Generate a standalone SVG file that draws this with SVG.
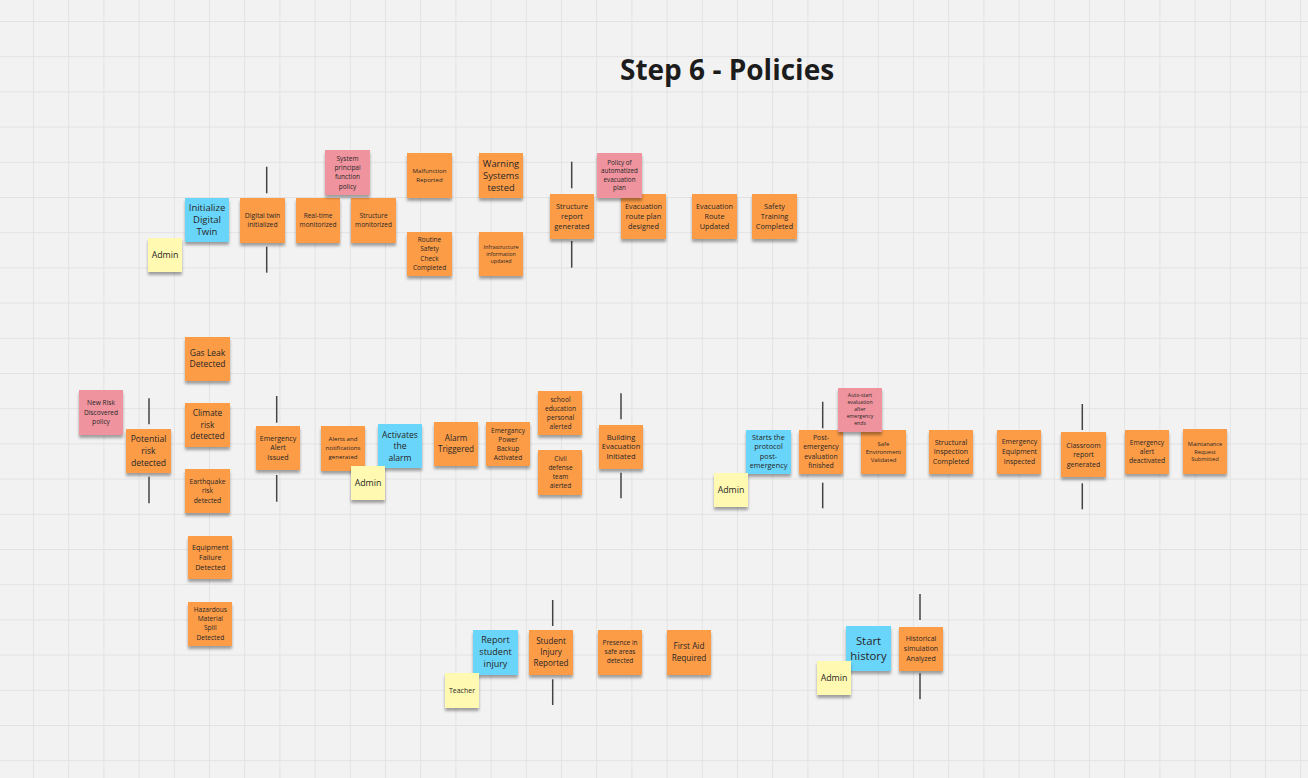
<svg xmlns="http://www.w3.org/2000/svg" width="1308" height="778" viewBox="0 0 1308 778">
<defs>
<pattern id="grid" x="173.8" y="56.2" width="35.2" height="35.2" patternUnits="userSpaceOnUse">
<rect x="0" y="0" width="1" height="35.2" fill="#e2e2e2"/>
<rect x="0" y="0" width="35.2" height="1" fill="#e2e2e2"/>
</pattern>
<filter id="sh" x="-20%" y="-20%" width="140%" height="160%">
<feGaussianBlur in="SourceAlpha" stdDeviation="1.8"/>
<feOffset dx="0" dy="3" result="b"/>
<feComponentTransfer><feFuncA type="linear" slope="0.35"/></feComponentTransfer>
<feMerge><feMergeNode/><feMergeNode in="SourceGraphic"/></feMerge>
</filter>
</defs>
<style>
.o{fill:#fd9c47;filter:url(#sh)}
.b{fill:#6bd5fa;filter:url(#sh)}
.y{fill:#fff9b1;filter:url(#sh)}
.p{fill:#ef949e;filter:url(#sh)}
.t{font-family:"Open Sans","Noto Sans",sans-serif;fill:#262626;text-anchor:middle}
.c{stroke:#444;stroke-width:1.5;fill:none}
.title{font-family:"Open Sans","Noto Sans",sans-serif;font-weight:700;font-size:28px;fill:#1c1c1c}
</style>
<rect width="1308" height="778" fill="#f2f2f2"/>
<rect width="1308" height="778" fill="url(#grid)"/>
<text class="title" x="620" y="80">Step 6 - Policies</text>

<g id="connectors">
<line class="c" x1="266.7" y1="166.7" x2="266.7" y2="193.3"/><line class="c" x1="266.7" y1="246.7" x2="266.7" y2="272.7"/>
<line class="c" x1="571.7" y1="161.7" x2="571.7" y2="188.3"/><line class="c" x1="571.7" y1="241" x2="571.7" y2="267.7"/>
<line class="c" x1="149" y1="398.3" x2="149" y2="424.3"/><line class="c" x1="149" y1="476.7" x2="149" y2="503.3"/>
<line class="c" x1="276.7" y1="396" x2="276.7" y2="422.7"/><line class="c" x1="276.7" y1="475" x2="276.7" y2="501.7"/>
<line class="c" x1="621" y1="393.3" x2="621" y2="419.3"/><line class="c" x1="621" y1="472.7" x2="621" y2="498.3"/>
<line class="c" x1="822.7" y1="401.7" x2="822.7" y2="428.3"/><line class="c" x1="822.7" y1="482.7" x2="822.7" y2="508.3"/>
<line class="c" x1="1082.3" y1="404" x2="1082.3" y2="430"/><line class="c" x1="1082.3" y1="483.3" x2="1082.3" y2="509.3"/>
<line class="c" x1="552.7" y1="600" x2="552.7" y2="626"/><line class="c" x1="552.7" y1="679.3" x2="552.7" y2="705"/>
<line class="c" x1="920" y1="594" x2="920" y2="620"/><line class="c" x1="920" y1="673.3" x2="920" y2="699.3"/>
</g>

<g id="admin1"><rect class="y" x="148" y="238" width="34" height="34"/><text class="t" font-size="8.8"><tspan x="165" y="258.1">Admin</tspan></text></g>
<g id="init-digital-twin"><rect class="b" x="185" y="198" width="44" height="44"/><text class="t" font-size="9.5"><tspan x="207" y="211.3">Initialize</tspan><tspan x="207" y="223.3">Digital</tspan><tspan x="207" y="235.3">Twin</tspan></text></g>
<g id="digital-twin-initialized"><rect class="o" x="240" y="198" width="45" height="45"/><text class="t" font-size="6.8"><tspan x="262.5" y="218.4">Digital twin</tspan><tspan x="262.5" y="227.4">initialized</tspan></text></g>
<g id="realtime-monitorized"><rect class="o" x="296" y="198" width="44" height="45"/><text class="t" font-size="6.5"><tspan x="318" y="218.3">Real-time</tspan><tspan x="318" y="227.3">monitorized</tspan></text></g>
<g id="structure-monitorized"><rect class="o" x="351" y="198" width="45" height="45"/><text class="t" font-size="6.5"><tspan x="373.5" y="218.3">Structure</tspan><tspan x="373.5" y="227.3">monitorized</tspan></text></g>
<g id="policy-system"><rect class="p" x="325" y="150" width="45" height="45"/><text class="t" font-size="6.5"><tspan x="347.5" y="160.8">System</tspan><tspan x="347.5" y="170.1">principal</tspan><tspan x="347.5" y="179.4">function</tspan><tspan x="347.5" y="188.7">policy</tspan></text></g>
<g id="malfunction-reported"><rect class="o" x="407" y="153" width="45" height="45"/><text class="t" font-size="6.1"><tspan x="429.5" y="173.4">Malfunction</tspan><tspan x="429.5" y="181.7">Reported</tspan></text></g>
<g id="routine-check"><rect class="o" x="407" y="232" width="45" height="44"/><text class="t" font-size="6.5"><tspan x="429.5" y="242">Routine</tspan><tspan x="429.5" y="251.3">Safety</tspan><tspan x="429.5" y="260.6">Check</tspan><tspan x="429.5" y="269.9">Completed</tspan></text></g>
<g id="warning-tested"><rect class="o" x="479" y="153" width="44" height="45"/><text class="t" font-size="9.3"><tspan x="501" y="166.7">Warning</tspan><tspan x="501" y="178.8">Systems</tspan><tspan x="501" y="190.9">tested</tspan></text></g>
<g id="infra-updated"><rect class="o" x="479" y="232" width="44" height="44"/><text class="t" font-size="5.4"><tspan x="501" y="249.2">Infrastructure</tspan><tspan x="501" y="255.9">information</tspan><tspan x="501" y="262.6">updated</tspan></text></g>
<g id="structure-report"><rect class="o" x="550" y="194" width="44" height="45"/><text class="t" font-size="7.4"><tspan x="572" y="208.5">Structure</tspan><tspan x="572" y="218.7">report</tspan><tspan x="572" y="228.9">generated</tspan></text></g>
<g id="evac-plan-designed"><rect class="o" x="621" y="194" width="45" height="45"/><text class="t" font-size="7.3"><tspan x="643.5" y="208.5">Evacuation</tspan><tspan x="643.5" y="218.7">route plan</tspan><tspan x="643.5" y="228.9">designed</tspan></text></g>
<g id="policy-evac"><rect class="p" x="597" y="153" width="45" height="45"/><text class="t" font-size="6.3"><tspan x="619.5" y="164.9">Policy of</tspan><tspan x="619.5" y="173.4">automatized</tspan><tspan x="619.5" y="181.9">evacuation</tspan><tspan x="619.5" y="190.4">plan</tspan></text></g>
<g id="evac-route-updated"><rect class="o" x="692" y="194" width="45" height="45"/><text class="t" font-size="7.3"><tspan x="714.5" y="208.5">Evacuation</tspan><tspan x="714.5" y="218.7">Route</tspan><tspan x="714.5" y="228.9">Updated</tspan></text></g>
<g id="safety-training"><rect class="o" x="752" y="194" width="45" height="45"/><text class="t" font-size="7.3"><tspan x="774.5" y="208.5">Safety</tspan><tspan x="774.5" y="218.7">Training</tspan><tspan x="774.5" y="228.9">Completed</tspan></text></g>

<g id="policy-new-risk"><rect class="p" x="79" y="390" width="44" height="45"/><text class="t" font-size="6.6"><tspan x="101" y="405.2">New Risk</tspan><tspan x="101" y="414.5">Discovered</tspan><tspan x="101" y="423.8">policy</tspan></text></g>
<g id="potential-risk"><rect class="o" x="126" y="429" width="45" height="44"/><text class="t" font-size="8.6"><tspan x="148.5" y="442.1">Potential</tspan><tspan x="148.5" y="453.8">risk</tspan><tspan x="148.5" y="465.5">detected</tspan></text></g>
<g id="gas-leak"><rect class="o" x="185" y="337" width="45" height="44"/><text class="t" font-size="8.5"><tspan x="207.5" y="356">Gas Leak</tspan><tspan x="207.5" y="367.3">Detected</tspan></text></g>
<g id="climate-risk"><rect class="o" x="185" y="403" width="45" height="44"/><text class="t" font-size="8.4"><tspan x="207.5" y="416">Climate</tspan><tspan x="207.5" y="427.5">risk</tspan><tspan x="207.5" y="439">detected</tspan></text></g>
<g id="earthquake-risk"><rect class="o" x="185" y="469" width="45" height="44"/><text class="t" font-size="6.7"><tspan x="207.5" y="484">Earthquake</tspan><tspan x="207.5" y="493.3">risk</tspan><tspan x="207.5" y="502.6">detected</tspan></text></g>
<g id="equipment-failure"><rect class="o" x="188" y="536" width="44" height="43"/><text class="t" font-size="7.2"><tspan x="210.3" y="550.3">Equipment</tspan><tspan x="210.3" y="560">Failure</tspan><tspan x="210.3" y="569.7">Detected</tspan></text></g>
<g id="hazardous-spill"><rect class="o" x="188" y="602" width="44" height="44"/><text class="t" font-size="6.6"><tspan x="210.3" y="611.8">Hazardous</tspan><tspan x="210.3" y="621.1">Material</tspan><tspan x="210.3" y="630.4">Spill</tspan><tspan x="210.3" y="639.7">Detected</tspan></text></g>
<g id="emergency-alert-issued"><rect class="o" x="256" y="426" width="44" height="44"/><text class="t" font-size="7.1"><tspan x="278" y="440.8">Emergency</tspan><tspan x="278" y="450.4">Alert</tspan><tspan x="278" y="460">Issued</tspan></text></g>
<g id="alerts-generated"><rect class="o" x="321" y="426" width="44" height="45"/><text class="t" font-size="6.1"><tspan x="343" y="441.3">Alerts and</tspan><tspan x="343" y="449.9">notifications</tspan><tspan x="343" y="458.5">generated</tspan></text></g>
<g id="activates-alarm"><rect class="b" x="378" y="424" width="44" height="44"/><text class="t" font-size="8.6"><tspan x="400" y="437.5">Activates</tspan><tspan x="400" y="449">the</tspan><tspan x="400" y="460.5">alarm</tspan></text></g>
<g id="admin2"><rect class="y" x="351" y="466" width="34" height="34"/><text class="t" font-size="8.8"><tspan x="368" y="486.1">Admin</tspan></text></g>
<g id="alarm-triggered"><rect class="o" x="434" y="422" width="44" height="44"/><text class="t" font-size="8.1"><tspan x="456" y="441.2">Alarm</tspan><tspan x="456" y="451.9">Triggered</tspan></text></g>
<g id="power-backup"><rect class="o" x="486" y="422" width="44" height="44"/><text class="t" font-size="6.6"><tspan x="508" y="432.5">Emergancy</tspan><tspan x="508" y="441.7">Power</tspan><tspan x="508" y="450.9">Backup</tspan><tspan x="508" y="460.1">Activated</tspan></text></g>
<g id="school-alerted"><rect class="o" x="538" y="391" width="44" height="44"/><text class="t" font-size="6.7"><tspan x="560.5" y="401.5">school</tspan><tspan x="560.5" y="410.7">education</tspan><tspan x="560.5" y="419.9">personal</tspan><tspan x="560.5" y="429.1">alerted</tspan></text></g>
<g id="civil-defense-alerted"><rect class="o" x="538" y="450" width="44" height="45"/><text class="t" font-size="6.5"><tspan x="560.5" y="460.7">Civil</tspan><tspan x="560.5" y="469.9">defense</tspan><tspan x="560.5" y="479.1">team</tspan><tspan x="560.5" y="488.3">alerted</tspan></text></g>
<g id="building-evacuation"><rect class="o" x="599" y="425" width="44" height="44"/><text class="t" font-size="7.6"><tspan x="621" y="440">Building</tspan><tspan x="621" y="449.4">Evacuation</tspan><tspan x="621" y="458.8">Initiated</tspan></text></g>

<g id="starts-protocol"><rect class="b" x="746" y="430" width="45" height="44"/><text class="t" font-size="7.3"><tspan x="768.5" y="440">Starts the</tspan><tspan x="768.5" y="449.3">protocol</tspan><tspan x="768.5" y="458.6">post-</tspan><tspan x="768.5" y="467.9">emergency</tspan></text></g>
<g id="admin3"><rect class="y" x="714" y="473" width="34" height="34"/><text class="t" font-size="8.8"><tspan x="731" y="493.1">Admin</tspan></text></g>
<g id="post-evaluation"><rect class="o" x="799" y="430" width="44" height="44"/><text class="t" font-size="6.9"><tspan x="821" y="440">Post-</tspan><tspan x="821" y="449.3">emergency</tspan><tspan x="821" y="458.6">evaluation</tspan><tspan x="821" y="467.9">finished</tspan></text></g>
<g id="safe-environment"><rect class="o" x="861" y="430" width="45" height="44"/><text class="t" font-size="5.9"><tspan x="883.5" y="445.5">Safe</tspan><tspan x="883.5" y="453.5">Environment</tspan><tspan x="883.5" y="461.5">Validated</tspan></text></g>
<g id="policy-auto-eval"><rect class="p" x="838" y="388" width="44" height="44"/><text class="t" font-size="5.2"><tspan x="860" y="397.2">Auto-start</tspan><tspan x="860" y="404.2">evaluation</tspan><tspan x="860" y="411.2">after</tspan><tspan x="860" y="418.2">emergency</tspan><tspan x="860" y="425.2">ends</tspan></text></g>
<g id="structural-inspection"><rect class="o" x="929" y="430" width="44" height="44"/><text class="t" font-size="7.1"><tspan x="951" y="444.8">Structural</tspan><tspan x="951" y="454.2">Inspection</tspan><tspan x="951" y="463.6">Completed</tspan></text></g>
<g id="equipment-inspected"><rect class="o" x="997" y="430" width="44" height="44"/><text class="t" font-size="6.9"><tspan x="1019.5" y="444.3">Emergency</tspan><tspan x="1019.5" y="453.9">Equipment</tspan><tspan x="1019.5" y="463.5">Inspected</tspan></text></g>
<g id="classroom-report"><rect class="o" x="1061" y="432" width="45" height="45"/><text class="t" font-size="7"><tspan x="1083.5" y="447.5">Classroom</tspan><tspan x="1083.5" y="457">report</tspan><tspan x="1083.5" y="466.5">generated</tspan></text></g>
<g id="alert-deactivated"><rect class="o" x="1125" y="430" width="44" height="44"/><text class="t" font-size="6.7"><tspan x="1147" y="444.6">Emergency</tspan><tspan x="1147" y="453.6">alert</tspan><tspan x="1147" y="462.6">deactivated</tspan></text></g>
<g id="maintenance-request"><rect class="o" x="1183" y="429" width="44" height="45"/><text class="t" font-size="5.7"><tspan x="1205" y="446">Maintanance</tspan><tspan x="1205" y="453.6">Request</tspan><tspan x="1205" y="461.2">Submitted</tspan></text></g>

<g id="report-injury"><rect class="b" x="473" y="630" width="45" height="45"/><text class="t" font-size="9"><tspan x="495.5" y="643">Report</tspan><tspan x="495.5" y="655">student</tspan><tspan x="495.5" y="667">injury</tspan></text></g>
<g id="teacher"><rect class="y" x="445" y="673" width="34" height="35"/><text class="t" font-size="7"><tspan x="462" y="692.6">Teacher</tspan></text></g>
<g id="student-injury-reported"><rect class="o" x="529" y="630" width="44" height="45"/><text class="t" font-size="8.1"><tspan x="551" y="643.5">Student</tspan><tspan x="551" y="654.5">Injury</tspan><tspan x="551" y="665.5">Reported</tspan></text></g>
<g id="presence-safe-areas"><rect class="o" x="598" y="630" width="44" height="45"/><text class="t" font-size="6.5"><tspan x="620" y="645">Presence in</tspan><tspan x="620" y="654.2">safe areas</tspan><tspan x="620" y="663.4">detected</tspan></text></g>
<g id="first-aid"><rect class="o" x="667" y="630" width="44" height="45"/><text class="t" font-size="8.2"><tspan x="689" y="648.9">First Aid</tspan><tspan x="689" y="660.6">Required</tspan></text></g>
<g id="start-history"><rect class="b" x="846" y="626" width="45" height="45"/><text class="t" font-size="11.3"><tspan x="868.5" y="644.6">Start</tspan><tspan x="868.5" y="659.9">history</tspan></text></g>
<g id="admin4"><rect class="y" x="817" y="661" width="34" height="34"/><text class="t" font-size="8.8"><tspan x="834" y="681.1">Admin</tspan></text></g>
<g id="historical-simulation"><rect class="o" x="899" y="627" width="44" height="44"/><text class="t" font-size="7"><tspan x="921" y="640.9">Historical</tspan><tspan x="921" y="650.9">simulation</tspan><tspan x="921" y="660.9">Analyzed</tspan></text></g>
</svg>
